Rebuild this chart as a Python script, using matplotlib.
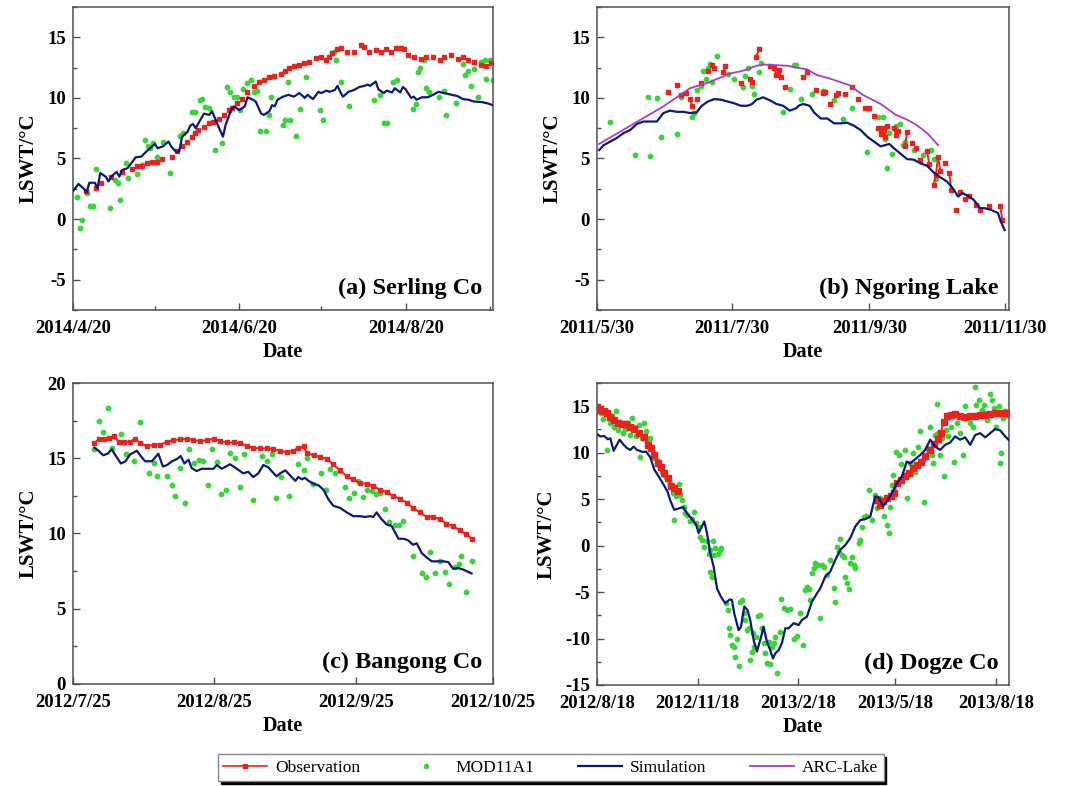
import numpy as np
import matplotlib
matplotlib.use("Agg")
import matplotlib.pyplot as plt
import matplotlib.dates as mdates
from matplotlib.lines import Line2D
from matplotlib.ticker import MultipleLocator, FixedLocator, FuncFormatter

plt.rcParams['font.family'] = ['Liberation Serif', 'DejaVu Serif']
plt.rcParams['axes.unicode_minus'] = False

# ---------------- data (day offsets from panel start date, values in deg C) ----------------
# (a) Serling Co, start 2014-04-20
A_START = "2014-04-20"
A_XLIM = ("2014-04-20", "2014-09-21")
A_TICKS = ["2014/4/20", "2014/6/20", "2014/8/20"]
A_MINOR = ["2014/5/20", "2014/7/20", "2014/9/20"]
A_SIM_D = [0,2,4,5,6,8,9,10,12,13,14,16,17,18,20,21,23,25,27,29,30,31,33,35,36,38,39,40,42,43,
           44,45,47,48,50,51,53,55,56,58,59,61,63,64,66,67,69,70,72,73,74,75,77,79,81,83,85,86,88,90,
           91,93,94,96,97,98,99,101,103,105,107,108,109,111,112,114,115,117,118,120,121,122,124,125,126,
           128,130,132,134,136,139,141,143,145,147,150,152,154]
A_SIM_V = [2.3,2.9,2.5,2.2,3.0,3.0,2.55,3.8,3.5,3.1,3.5,3.9,3.5,4.05,4.2,4.5,5.1,5.15,5.6,6.0,
           6.2,5.85,6.0,6.4,6.0,5.5,5.6,6.8,7.2,7.7,7.85,7.5,8.3,8.7,8.6,8.9,7.8,6.8,7.8,9.0,
           9.3,9.0,9.3,10.05,9.85,9.7,8.7,8.6,8.9,9.4,9.3,9.85,10.1,10.25,10.1,10.4,10.0,10.25,9.9,10.5,
           10.4,10.6,10.5,10.65,11.0,10.5,10.1,10.5,10.65,10.9,11.0,11.1,11.0,11.35,10.7,10.4,10.6,10.45,10.8,10.45,
           10.9,10.7,10.0,10.1,9.85,10.05,10.05,10.25,10.5,10.4,10.25,10.15,9.9,9.85,9.7,9.65,9.55,9.4]
A_OBS_D = [4.9,8.6,10.4,14.1,17.8,21.5,23.3,25.2,27,28.8,30.7,32.5,36.2,38,39.9,41.7,43.6,44.8,46,47.9,
           49.7,51.5,53.4,55.2,57.1,58.3,60.1,62,63.8,66.3,68.1,69.9,71.8,73.6,76.1,77.9,79.1,81,82.8,84.7,
           86.5,89,90.8,92.6,93.9,95.1,96.9,98.2,100.6,103.1,105.5,106.7,108.6,111,112.9,114.7,116.6,118.4,120.2,121.5,
           122.7,125.2,127.6,129.4,131.9,134.4,136.2,138.7,141.1,142.9,144.8,147.2,149.7,151.5,153.4]
A_OBS_V = [2.3,2.55,3.0,3.5,3.9,4.1,4.35,4.35,4.6,4.7,4.75,4.95,5.15,5.6,6.0,6.4,6.8,7.1,7.35,7.6,
           7.9,8.05,8.3,8.6,9.0,9.2,9.55,9.9,10.45,11.0,11.35,11.5,11.7,11.8,12.0,12.25,12.45,12.6,12.7,12.85,
           13.0,13.3,13.35,13.15,13.35,13.7,14.0,14.1,13.75,13.8,14.35,14.2,13.8,13.95,13.8,14.0,13.75,14.1,14.1,14.0,
           13.55,13.4,13.25,13.35,13.35,13.1,13.4,13.55,13.2,13.4,13.15,13.0,12.7,12.65,12.85]
A_MOD_D = [1.5,2.5,3.4,5.2,6.4,7.4,8.6,13.5,15.3,16.6,17.4,19.4,20.2,23.3,25.2,26.4,27.6,28.3,29.4,30.7,
           32.9,35.6,39.3,40.2,43.6,44.8,46.4,47.2,48.5,49.7,52.1,54.6,56.4,57.7,58.9,60.1,61.3,62.3,63.8,65.3,
           66.3,67.5,68.5,70.6,71.8,72.6,77.1,77.9,79.5,78.8,81.6,83.4,85.6,90.6,91.8,95.7,96.3,98.2,101.2,110.4,
           112.6,113.9,115.3,117.5,118.8,124.5,125.8,126.4,127.4,128.6,129.4,130.7,134.3,136.2,136.8,140.5,142.9,143.6,144.8,146,
           147.2,148.5,149.7,150.9,151.5,152.8,154]
A_MOD_V = [1.8,-0.75,-0.1,2.15,1.05,1.1,4.1,0.95,3.25,2.95,1.6,4.65,3.4,3.75,4.5,6.5,6.05,5.85,6.25,5.15,
           6.4,3.8,6.85,7.1,8.85,8.85,9.85,9.9,9.25,9.15,5.7,6.3,10.9,10.5,10.1,10.05,9.0,10.7,11.2,11.45,
           10.45,10.6,7.3,7.3,8.6,10.1,7.8,8.15,8.15,11.35,6.85,9.05,11.75,9.0,8.15,13.8,13.1,11.35,9.3,9.8,
           10.25,7.9,7.9,11.35,11.5,9.1,9.5,12.15,12.5,13.1,10.8,10.5,10.1,10.6,8.6,9.6,12.8,11.9,12.25,11.0,
           12.35,10.1,13.0,13.1,11.6,13.1,11.5]

# (b) Ngoring Lake, start 2011-05-30
B_START = "2011-05-30"
B_XLIM = ("2011-05-30", "2011-12-02")
B_TICKS = ["2011/5/30", "2011/7/30", "2011/9/30", "2011/11/30"]
B_SIM_D = [1,3,6,9,12,15,18,21,24,27,30,33,36,39,42,45,47,50,53,56,59,62,65,68,70,72,75,78,81,84,
           87,90,91,93,96,98,101,104,107,110,113,116,119,122,125,128,129,132,134,137,140,143,146,149,152,155,158,161,163,165,
           168,170,173,175,178,181,182,184]
B_SIM_V = [5.7,6.1,6.4,6.7,7.1,7.35,7.85,8.05,8.05,8.05,8.75,8.95,8.85,8.85,8.75,8.8,9.3,9.7,9.9,9.85,
           9.7,9.55,9.35,9.35,9.5,9.85,10.05,9.8,9.5,9.35,8.95,9.15,9.35,9.5,9.35,8.8,8.3,8.3,7.9,7.9,
           7.95,7.7,7.35,6.8,6.4,6.0,6.05,6.2,5.85,5.4,4.95,4.9,4.6,4.4,3.85,3.45,3.1,2.45,1.85,2.15,
           1.85,1.6,0.9,0.9,0.75,0.5,-0.05,-0.9]
B_ARC_D = [1,15,30,42,50,54,60,66,72,75,81,86,90,95,99,105,114,120,128,135,140,144,149,154]
B_ARC_V = [6.2,7.7,9.3,10.8,11.25,11.55,12.0,12.25,12.65,12.75,12.7,12.65,12.5,12.35,11.9,11.6,11.05,10.25,9.5,8.6,8.2,7.8,7.1,6.1]
B_OBS_D = [32,36,38,40,42,43,45,47,50,52,53,57,58,65,69,70,72,73,78,80,81,82,83,85,93,95,99,102,103,105,
           108,109,112,115,118,121,123,125,127,128,129,130,131,134,135,136,139,140,142,144,146,149,150,152,153,154,155,157,159,160,
           162,164,166,168,171,173,177,182,183]
B_OBS_V = [10.5,11.05,10.25,10.4,9.9,9.3,9.9,11.25,12.25,12.7,12.45,12.15,12.6,11.2,11.6,11.35,13.4,14.0,12.6,12.45,
           11.9,12.3,11.7,10.9,11.75,12.1,10.65,10.4,10.5,9.5,10.25,10.4,10.3,10.9,9.9,9.15,9.15,8.5,7.5,7.05,
           7.5,6.8,7.65,7.5,6.95,7.3,6.0,7.2,6.25,5.85,4.85,5.6,4.55,2.85,3.65,5.15,3.95,4.6,3.8,2.4,
           0.75,2.2,1.65,1.9,1.2,0.75,1.1,1.1,-0.05]
B_MOD_D = [6,17,23,24,27,29,36,38,43,44,45,47,48,49,50,51,52,54,59,62,66,67,68,70,71,73,74,84,87,89,
           90,92,97,102,103,107,111,115,122,127,129,130,131,132,133,135,137,138,139,143,147,151,152,153]
B_MOD_V = [8.05,5.3,10.05,5.2,10.0,6.8,7.05,10.05,8.45,8.75,10.65,11.0,12.25,11.6,12.45,12.8,11.35,13.45,12.0,11.55,
           10.9,11.8,12.5,10.95,10.35,12.15,12.85,8.85,10.7,12.7,12.7,9.9,10.35,10.6,10.5,9.8,8.3,9.2,5.5,8.4,
           8.4,6.6,4.2,7.1,5.4,7.65,7.85,6.15,6.4,5.7,5.3,5.7,4.95,3.3]

# (c) Bangong Co, start 2012-07-25
C_START = "2012-07-25"
C_XLIM = ("2012-07-25", "2012-10-25")
C_TICKS = ["2012/7/25", "2012/8/25", "2012/9/25", "2012/10/25"]
C_SIM_D = [4.7,5.6,6.6,7.6,8.5,9.5,10.5,11.5,12.5,14,14.7,15.8,17.3,18,18.7,19.7,20.6,21.7,22.8,23.6,
           24.4,25.3,26,27.1,28.2,29.3,30.8,31.5,32.6,34.4,35.9,37.3,38.4,39.5,40.6,41.7,42.8,43.5,44.6,45.4,
           46.5,47.6,48.7,49.4,50.1,50.8,51.6,52.7,53.8,54.9,55.9,57,58.5,60,61.4,62.9,64,65.1,65.8,66.5,
           67.6,68.7,69.8,71.3,72.4,73.4,74.5,75.3,76.4,77.5,78.6,80,81.1,82.2,83.3,84.4,85.5,87.3]
C_SIM_V = [15.7,15.5,15.2,15.3,15.6,15.1,14.65,14.8,15.25,15.5,15.2,14.8,14.8,15.05,15.3,14.45,14.55,14.8,14.95,15.15,
           14.65,14.9,14.35,14.15,14.3,14.3,14.3,14.55,14.3,14.6,14.3,14.0,14.1,13.75,14.0,14.55,14.4,14.15,13.8,14.0,
           14.2,13.85,13.5,13.75,13.6,13.7,13.5,13.3,13.2,12.9,12.3,11.85,11.7,11.4,11.15,11.15,11.1,11.15,11.1,11.4,
           10.95,10.6,10.5,9.65,9.65,9.55,9.25,9.35,8.7,8.4,8.15,8.15,8.15,8.1,7.65,7.7,7.6,7.35]
C_OBS_D = [4.7,5.6,6.7,7.8,8.9,10,11.1,12.5,13.6,14.7,16.2,17.7,19.1,20.6,22,23.5,24.9,26.4,27.9,29.3,
           30.8,32.2,33.7,35.2,36.6,38.1,39.5,41,42.5,43.9,45.4,46.8,48.3,49.4,50.5,51.2,52.7,54.1,55.6,57,
           58.5,60,61.4,62.9,64.3,65.8,67.3,68.7,70.2,71.6,73.1,74.5,76,77.5,78.9,80.4,81.8,83.3,84.8,86.2,87.3]
C_OBS_V = [16.0,16.25,16.25,16.35,16.45,16.1,16.1,16.1,16.3,16.0,15.8,15.9,15.9,16.1,16.2,16.25,16.3,16.2,16.15,16.2,
           16.3,16.15,16.05,16.05,16.0,15.8,15.7,15.65,15.65,15.6,15.5,15.4,15.5,15.7,15.8,15.35,15.2,15.1,14.95,14.6,
           14.2,13.8,13.6,13.35,13.3,13.15,12.9,12.75,12.5,12.3,12.05,11.7,11.4,11.1,11.1,10.95,10.65,10.5,10.2,9.95,9.65]
C_MOD_D = [4.7,5.6,6.6,7.6,8.5,10.5,11.7,13.4,14.6,16.6,17.7,18.5,20.6,21.7,22.4,23.5,24.6,25.5,26.5,27.5,
           28.4,29.5,30.4,31.5,32.4,33.6,34.4,35.5,36.5,37.5,39.5,41.4,42.5,43.5,44.5,45.5,47.4,49.4,50.5,51.3,
           52.5,54.3,55.4,56.3,57.4,58.4,59.6,60.5,61.6,62.5,63.5,64.3,65.4,66.4,67.3,68.3,69.3,70.5,71.5,72.4,
           74.5,76.4,77.3,78.3,79.3,80.4,81.5,82.4,83.7,84.6,85.1,86.2,87.3]
C_MOD_V = [15.6,17.5,16.75,18.35,15.7,16.6,15.3,14.8,17.4,14.0,14.7,13.8,13.85,13.2,12.5,14.35,12.0,15.6,14.7,14.9,
           14.8,13.2,15.6,14.75,12.6,12.9,15.35,15.05,13.1,15.3,12.2,15.15,14.8,15.3,12.35,13.75,12.5,14.6,14.2,15.05,
           13.3,14.05,12.9,14.3,14.05,14.15,13.1,12.35,12.7,13.5,12.45,12.9,12.8,12.6,12.7,11.65,10.75,10.55,10.55,10.8,
           8.5,7.35,7.1,8.75,7.4,8.15,7.45,6.65,7.8,7.95,8.5,6.1,8.15]

# (d) Dogze Co, start 2012-08-18
D_START = "2012-08-18"
D_XLIM = ("2012-08-18", "2013-08-30")
D_TICKS = ["2012/8/18", "2012/11/18", "2013/2/18", "2013/5/18", "2013/8/18"]
D_SIM_D = [0,3,6.7,9.8,12.2,15.2,17.7,20.7,24.4,27.4,30.5,33.5,36.6,41.2,45.1,48.8,52.4,56.4,61,64.6,
           67.1,70.7,74.7,78.7,82.3,86.9,90.9,93,95.1,98.2,100.6,103.7,106.7,109.8,113.4,117.4,121.3,123.5,125.6,129.6,
           131.7,134.8,137.8,140.2,143.3,146.3,149.4,152.4,155.5,158.5,161,163.1,166.2,169.2,172.3,175.3,179.9,184.5,187.5,192.1,
           196.6,201.2,204.3,208.8,213.4,218,222.6,227.1,231.7,236.3,240.9,245.4,250,254.6,257.6,261.6,265.2,269.8,274.4,279,
           283.5,286.6,291.2,295.7,300.3,304.9,309.5,314,318.6,323.2,327.7,332.3,336.9,341.5,346,350.6,355.2,359.8,364.3,368.9,
           373.5,377.4]
D_SIM_V = [12.0,11.75,11.8,11.45,11.55,10.2,10.75,11.4,10.85,10.5,10.3,10.65,10.3,10.1,10.1,9.5,8.2,7.45,6.55,5.8,
           4.85,3.85,4.0,4.15,3.5,2.85,2.2,1.35,1.85,2.6,1.35,-0.85,-2.25,-4.6,-5.5,-6.2,-5.8,-5.85,-7.3,-9.1,
           -8.75,-6.55,-6.95,-8.0,-10.15,-11.4,-10.15,-8.75,-10.35,-11.25,-12.15,-11.6,-11.25,-10.5,-8.9,-8.9,-8.35,-8.55,-8.0,-7.65,
           -6.05,-5.15,-4.6,-3.35,-2.8,-1.55,-0.45,0.05,0.8,2.05,2.75,2.85,3.1,5.3,5.2,4.25,4.75,5.65,6.7,7.45,
           9.05,8.85,9.3,9.75,10.3,11.4,10.65,10.3,10.85,11.1,11.75,11.4,11.65,10.85,11.9,12.1,11.65,12.1,12.55,12.4,
           11.75,11.3]
D_OBS_D = [0,3,6.1,9.1,12.2,15.2,18.9,22.9,26.8,30.5,34.1,38.1,42.7,46.3,49.4,52.4,55.5,58.5,61.6,64.6,
           67.7,70.7,73.8,
           256.1,258.5,261.6,265.2,268.9,272,274.4,278,282,285.1,289,292.7,296.3,300.3,304.3,308,311.6,314.6,317.1,320.1,
           323.8,327.7,332.3,336.9,341.5,346,350.6,355.2,359.8,364.3,368.9,373.5,377.4]
D_OBS_V = [14.9,14.55,14.45,14.3,13.8,13.55,13.25,13.1,13.1,12.8,12.55,12.1,11.65,10.85,10.5,9.75,8.85,8.45,7.8,7.25,
           6.45,6.2,5.9,
           4.9,4.4,4.75,5.1,5.3,5.65,6.7,7.05,7.45,7.8,8.35,8.7,9.05,9.6,10.25,10.95,11.45,12.1,13.35,13.9,
           14.1,14.2,13.95,13.8,13.95,13.9,14.1,14.1,14.2,14.25,14.25,14.25,14.3]
D_MOD_D = [1.5,3.7,5.5,7.6,9.1,11.6,13.7,15.9,17.7,18.9,21.3,23.8,25.9,28,30.5,32,34.1,36,38.1,39.6,
           41.2,42.7,45.1,47.3,48.8,50.3,52.4,54.9,57.3,59.5,61,63.4,65.5,67.1,69.5,70.7,72.6,74.7,76.2,77.7,
           79.3,80.8,82.3,84.8,86.9,89,90.9,93,94.5,96,98.2,100.6,102.1,103.7,106.1,108.2,110.4,112.2,113.4,103,
           105.2,106.7,118.3,119.5,120.4,122,123.5,125,126.5,128,129.6,131.1,132.6,134.1,135.7,137.2,138.7,140.2,141.8,142.7,
           143.9,145.7,147,148.8,150.9,152.4,154,155.5,157,158.5,160.1,161.6,163.1,164.6,167.1,168.3,170.7,173.8,176.8,179.9,
           182.9,186,188.4,190.5,192.1,193.6,195.1,196.6,198.2,199.7,201.8,204.3,205.8,207.3,210.4,213.4,216.5,218,219.5,221,
           222.6,224.1,225.6,227.1,228.7,230.2,231.7,233.2,234.8,236.3,239.3,240.9,242.4,243.9,246.3,248.5,251.5,254.6,256.1,259.1,
           262.2,265.2,266.8,268.3,269.8,271.3,273.8,275.9,278,280.5,282,284.1,286.6,289,291.2,293.3,295.1,298.2,299.4,301.8,
           304.9,306.4,307.9,309.5,311,311.6,313.4,315.5,317.7,319.5,321.6,323.8,326.8,329.3,332.3,334.8,336.9,339,341.5,343.9,
           346,346.9,349.1,350.6,352.1,353.7,355.2,357.3,359.8,361.3,363.4,365.2,367.4,368.9,369.5,371.3,373.5,375.6]
D_MOD_V = [14.6,14.3,13.6,14.45,10.3,13.25,13.9,12.8,14.45,12.45,13.35,12.1,12.55,13.25,11.9,13.7,12.8,11.75,13.0,9.5,
           11.55,13.2,12.3,11.4,11.55,10.65,9.4,9.25,8.5,7.95,7.6,7.35,7.05,6.65,5.65,2.75,5.3,6.65,5.45,4.9,
           4.2,3.5,3.3,2.6,2.85,3.65,2.4,2.05,0.95,0.6,-0.1,0.45,-0.85,-0.45,0.45,-0.3,-0.85,-0.45,-0.3,-2.8,
           -3.35,-1.0,-6.15,-6.95,-8.9,-9.6,-10.7,-10.9,-11.95,-10.0,-12.95,-6.05,-5.85,-7.2,-8.0,-9.1,-8.9,-12.3,-11.4,-9.45,
           -10.9,-9.8,-7.6,-7.45,-8.9,-10.5,-11.6,-12.65,-10.35,-12.75,-10.95,-10.5,-9.8,-13.75,-9.25,-5.7,-6.75,-6.95,-6.85,-10.1,
           -9.7,-7.3,-10.7,-4.8,-4.4,-4.7,-5.85,-2.9,-2.45,-1.9,-2.1,-7.8,-2.1,-2.25,-3.15,-1.6,-4.6,-6.05,-0.1,-0.65,
           0.7,-1.0,-1.2,-3.35,-4.05,-4.7,-1.85,-1.2,-2.1,-2.45,0.25,0.6,2.05,3.1,3.2,6.0,2.75,5.45,4.0,5.1,
           3.2,2.2,1.35,4.2,6.55,7.6,10.1,9.75,8.8,7.6,10.3,5.1,8.85,10.0,7.95,10.65,12.3,9.2,4.65,10.5,
           12.8,9.75,8.85,11.9,15.25,12.1,9.75,11.55,7.45,12.45,11.75,12.8,9.05,13.2,12.1,9.75,15.0,13.9,13.2,12.8,
           17.05,15.15,15.7,13.9,14.6,15.15,14.25,13.55,16.35,15.7,14.8,12.8,15.0,8.85,10.0,13.7,14.45,14.1]

LAKES = ["(a) Serling Co", "(b) Ngoring Lake", "(c) Bangong Co", "(d) Dogze Co"]
SERIES = ["Observation", "MOD11A1", "Simulation", "ARC-Lake"]

RED = "#e8221c"
GREEN = "#3bd23b"
NAVY = "#0b1a78"
PURPLE = "#a93cc9"
SPINE = "#505050"


def dnum(start, days):
    return mdates.date2num(np.datetime64(start, "s")) + np.asarray(days, float)


def tnum(labels):
    return [mdates.date2num(np.datetime64("-".join(f"{int(p):02d}" for p in s.split("/")), "s")) for s in labels]


def fmt_date(v, pos=None):
    d = mdates.num2date(v)
    return f"{d.year}/{d.month}/{d.day}"


def plot_obs(ax, start, days, vals, gap, ms):
    x = dnum(start, days)
    y = np.asarray(vals, float)
    if gap > 0:
        breaks = np.where(np.diff(np.asarray(days, float)) > gap)[0] + 1
        for xs, ys in zip(np.split(x, breaks), np.split(y, breaks)):
            if len(xs) > 1:
                ax.plot(xs, ys, color=RED, lw=1.4, zorder=3)
    ax.plot(x, y, ls="none", marker="s", ms=ms, color=RED, mec=RED, zorder=3)


def style(ax, xlim, ticks, ylim, ymajor, label, minor_x=None):
    ax.set_xlim(dnum(xlim[0], 0), dnum(xlim[1], 0))
    ax.set_ylim(*ylim)
    ax.xaxis.set_major_locator(FixedLocator(tnum(ticks)))
    ax.xaxis.set_major_formatter(FuncFormatter(fmt_date))
    if minor_x:
        ax.xaxis.set_minor_locator(FixedLocator(tnum(minor_x)))
    ax.yaxis.set_major_locator(MultipleLocator(ymajor))
    ax.yaxis.set_minor_locator(MultipleLocator(ymajor / 2))
    ax.tick_params(which="both", direction="in", color=SPINE, width=1.0,
                   labelsize=13.5)
    ax.tick_params(axis="x", pad=7)
    ax.tick_params(axis="y", pad=5)
    ax.tick_params(which="major", length=5)
    ax.tick_params(which="minor", length=3)
    for lab in ax.get_xticklabels() + ax.get_yticklabels():
        lab.set_fontweight("bold")
    for sp in ax.spines.values():
        sp.set_color(SPINE)
        sp.set_linewidth(1.1)
    ax.set_xlabel("Date", fontsize=14.5, fontweight="bold", labelpad=4)
    ax.set_ylabel("LSWT/\u00b0C", fontsize=15, fontweight="bold", labelpad=6)
    ax.text(0.975, 0.035, label, transform=ax.transAxes, ha="right", va="bottom",
            fontsize=17.5, fontweight="bold")


fig = plt.figure(figsize=(10.78, 7.86), dpi=100)
axA = fig.add_axes([0.0677, 0.6056, 0.3896, 0.3855])
axB = fig.add_axes([0.5538, 0.6056, 0.3822, 0.3855])
axC = fig.add_axes([0.0677, 0.1298, 0.3896, 0.3829])
axD = fig.add_axes([0.5538, 0.1285, 0.3822, 0.3842])

MS_DOT = 3.2

# (a)
axA.plot(dnum(A_START, A_MOD_D), A_MOD_V, ls="none", marker="o", ms=MS_DOT, color=GREEN, zorder=2)
plot_obs(axA, A_START, A_OBS_D, A_OBS_V, 0, 3.3)
axA.plot(dnum(A_START, A_SIM_D), A_SIM_V, color=NAVY, lw=1.6, zorder=4)
style(axA, A_XLIM, A_TICKS, (-7.5, 17.5), 5, LAKES[0], A_MINOR)

# (b)
axB.plot(dnum(B_START, B_MOD_D), B_MOD_V, ls="none", marker="o", ms=MS_DOT, color=GREEN, zorder=2)
plot_obs(axB, B_START, B_OBS_D, B_OBS_V, 1, 3.3)
axB.plot(dnum(B_START, B_SIM_D), B_SIM_V, color=NAVY, lw=1.6, zorder=4)
axB.plot(dnum(B_START, B_ARC_D), B_ARC_V, color=PURPLE, lw=1.3, zorder=5)
style(axB, B_XLIM, B_TICKS, (-7.5, 17.5), 5, LAKES[1])

# (c)
axC.plot(dnum(C_START, C_MOD_D), C_MOD_V, ls="none", marker="o", ms=MS_DOT, color=GREEN, zorder=2)
plot_obs(axC, C_START, C_OBS_D, C_OBS_V, 3, 3.2)
axC.plot(dnum(C_START, C_SIM_D), C_SIM_V, color=NAVY, lw=1.6, zorder=4)
style(axC, C_XLIM, C_TICKS, (0, 20), 5, LAKES[2])

# (d)
axD.plot(dnum(D_START, D_MOD_D), D_MOD_V, ls="none", marker="o", ms=MS_DOT, color=GREEN, zorder=2)
plot_obs(axD, D_START, D_OBS_D, D_OBS_V, 10, 4.0)
axD.plot(dnum(D_START, D_SIM_D), D_SIM_V, color=NAVY, lw=1.6, zorder=4)
style(axD, D_XLIM, D_TICKS, (-15, 17.5), 5, LAKES[3])

handles = [
    Line2D([0], [0], color=RED, lw=1.2, marker="s", ms=2.5),
    Line2D([0], [0], ls="none", marker="o", ms=3, color=GREEN),
    Line2D([0], [0], color=NAVY, lw=1.6),
    Line2D([0], [0], color=PURPLE, lw=1.3),
]
leg = fig.legend(handles, SERIES, loc="center", bbox_to_anchor=(0.511, 0.0235), ncol=4,
                 frameon=True, fancybox=False, shadow={"color": "black", "alpha": 1.0},
                 edgecolor="#888888", prop={"size": 12.5}, handlelength=2.5,
                 columnspacing=2.5, handletextpad=0.5, borderpad=0.3, numpoints=1)
leg.get_frame().set_linewidth(1.0)

fig.savefig("out.png", dpi=100, facecolor="white")
